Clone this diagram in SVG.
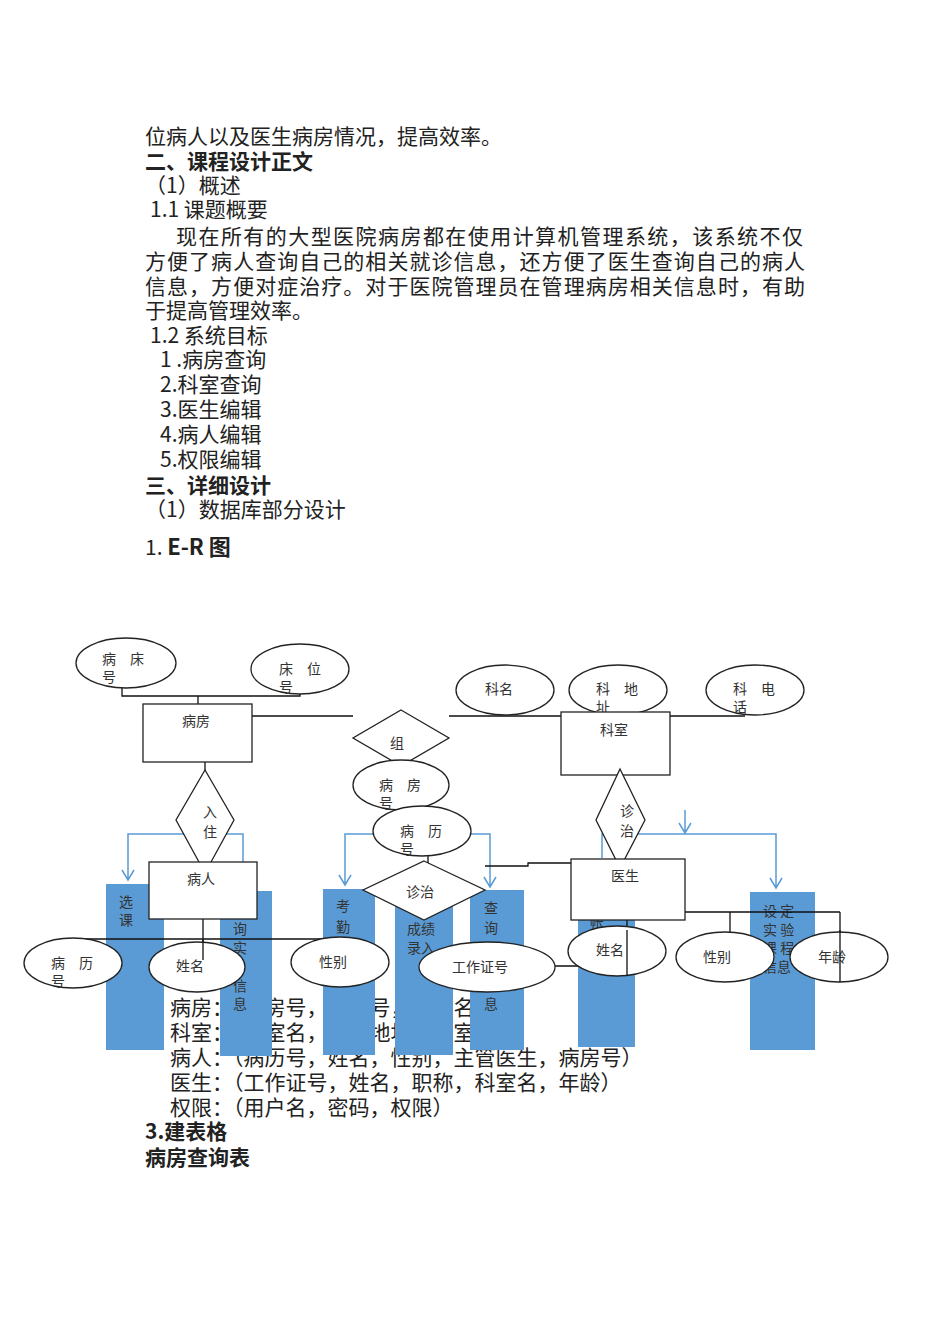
<svg xmlns="http://www.w3.org/2000/svg" width="950" height="1344" viewBox="0 0 950 1344">
<style>
text{font-family:"Noto Sans CJK SC","Noto Sans",sans-serif;fill:#222}
.t{font-size:21px}
.b{font-weight:bold}
.s{font-size:14px;fill:#333}
.bar{fill:#5b9bd5}
.k{fill:#fff;stroke:#222;stroke-width:1.3}
.l{fill:none;stroke:#111;stroke-width:1.3}
.bl{fill:none;stroke:#5b9bd5;stroke-width:1.5}
</style>
<rect width="950" height="1344" fill="#fff"/>
<g id="text">
<text class="t" x="145" y="144">位病人以及医生病房情况，提高效率。</text>
<text class="t b" x="145" y="169">二、课程设计正文</text>
<text class="t" x="145" y="193">（1）概述</text>
<text class="t" x="150" y="217">1.1 课题概要</text>
<text class="t" x="176" y="244" textLength="627">现在所有的大型医院病房都在使用计算机管理系统，该系统不仅</text>
<text class="t" x="145" y="269" textLength="660">方便了病人查询自己的相关就诊信息，还方便了医生查询自己的病人</text>
<text class="t" x="145" y="294" textLength="660">信息，方便对症治疗。对于医院管理员在管理病房相关信息时，有助</text>
<text class="t" x="145" y="318">于提高管理效率。</text>
<text class="t" x="150" y="343">1.2 系统目标</text>
<text class="t" x="160" y="367">1 .病房查询</text>
<text class="t" x="160" y="392">2.科室查询</text>
<text class="t" x="160" y="417">3.医生编辑</text>
<text class="t" x="160" y="442">4.病人编辑</text>
<text class="t" x="160" y="467">5.权限编辑</text>
<text class="t b" x="145" y="493">三、详细设计</text>
<text class="t" x="145" y="517">（1）数据库部分设计</text>
<text class="t" x="145" y="555">1. <tspan class="b" font-size="22">E-R 图</tspan></text>
<text class="t" x="170" y="1015">病房：（病房号，床位号，科室名）</text>
<text class="t" x="170" y="1040">科室：（科室名，科室地址，科室电话）</text>
<text class="t" x="170" y="1065">病人：（病历号，姓名，性别，主管医生，病房号）</text>
<text class="t" x="170" y="1090">医生：（工作证号，姓名，职称，科室名，年龄）</text>
<text class="t" x="170" y="1115">权限：（用户名，密码，权限）</text>
<text class="t b" x="145" y="1139">3.建表格</text>
<text class="t b" x="145" y="1165">病房查询表</text>
</g>
<g id="bars">
<rect class="bar" x="106" y="884" width="58" height="166"/>
<text class="s" x="119" y="907" fill="#333">选</text><text class="s" x="119" y="925">课</text>
<rect class="bar" x="220" y="891" width="52" height="165"/>
<text class="s" x="233" y="934">询</text><text class="s" x="233" y="953">实</text><text class="s" x="233" y="991">信</text><text class="s" x="233" y="1009">息</text>
<rect class="bar" x="323" y="889" width="52" height="166"/>
<text class="s" x="336" y="911">考</text><text class="s" x="336" y="932">勤</text>
<rect class="bar" x="395" y="889" width="58" height="166"/>
<text class="s" x="407" y="934">成绩</text><text class="s" x="407" y="953">录入</text>
<rect class="bar" x="470" y="890" width="54" height="160"/>
<text class="s" x="484" y="913">查</text><text class="s" x="484" y="933">询</text><text class="s" x="484" y="1009">息</text>
<rect class="bar" x="578" y="910" width="57" height="137"/>
<text class="s" x="590" y="927">帐</text>
<rect class="bar" x="750" y="892" width="65" height="158"/>
<text class="s" x="763" y="916">设 定</text><text class="s" x="763" y="935">实 验</text><text class="s" x="763" y="953">课 程</text><text class="s" x="763" y="972">信息</text>
</g>
<g id="connectors">
<path class="bl" d="M128,880V834H243V862M122,870l6,10l6,-10"/>
<path class="bl" d="M345,885V834H490V887M339,875l6,10l6,-10M484,877l6,10l6,-10"/>
<path class="bl" d="M602,858V834H776V888M770,878l6,10l6,-10M685,810V833M679,823l6,10l6,-10"/>
<path class="l" d="M122,688V696H300V694M198,696V762M252,716H353M449,716H745M205,738V870M203,895V975M60,939H330M627,905V976M627,912H840M730,912V932M840,912V982M620,716V897M555,966H578M485,866H528V863H571M401,723V758M428,832V880"/>
</g>
<g id="n_bingchuang"><ellipse class="k" cx="126" cy="663" rx="50" ry="25"/><text class="s" x="102" y="664">病　床</text><text class="s" x="102" y="682">号</text></g>
<g id="n_chuangwei"><ellipse class="k" cx="300" cy="669" rx="49" ry="25"/><text class="s" x="279" y="674">床　位</text><text class="s" x="279" y="692">号</text></g>
<g id="n_bingfang"><rect class="k" x="143" y="704" width="109" height="58"/><text class="s" x="182" y="726">病房</text></g>
<g id="n_ruzhu"><polygon class="k" points="205,770 234,820 205,873 176,820"/><text class="s" x="203" y="817">入</text><text class="s" x="203" y="837">住</text></g>
<g id="n_bingren"><rect class="k" x="149" y="862" width="108" height="57"/><text class="s" x="187" y="884">病人</text></g>
<g id="n_zucheng"><polygon class="k" points="401,710 449,738 401,766 353,738"/><text class="s" x="390" y="748">组</text></g>
<g id="n_bingfanghao"><ellipse class="k" cx="401" cy="785" rx="48" ry="25"/><text class="s" x="379" y="790">病　房</text><text class="s" x="379" y="808">号</text></g>
<g id="n_binglihao2"><ellipse class="k" cx="422" cy="831" rx="49" ry="25"/><text class="s" x="400" y="836">病　历</text><text class="s" x="400" y="854">号</text></g>
<g id="n_zhenzhi1"><polygon class="k" points="424,861 485,890 424,920 363,890"/><text class="s" x="406" y="897">诊治</text></g>
<g id="n_keming"><ellipse class="k" cx="505" cy="690" rx="49" ry="25"/><text class="s" x="485" y="694">科名</text></g>
<g id="n_kedizhi"><ellipse class="k" cx="618" cy="690" rx="49" ry="25"/><text class="s" x="596" y="694">科　地</text><text class="s" x="596" y="712">址</text></g>
<g id="n_kedianhua"><ellipse class="k" cx="755" cy="690" rx="49" ry="25"/><text class="s" x="733" y="694">科　电</text><text class="s" x="733" y="712">话</text></g>
<g id="n_keshi"><rect class="k" x="561" y="712" width="109" height="63"/><text class="s" x="600" y="735">科室</text></g>
<g id="n_zhenzhi2"><polygon class="k" points="620,769 645,820 620,868 596,820"/><text class="s" x="620" y="816">诊</text><text class="s" x="620" y="836">治</text></g>
<g id="n_yisheng"><rect class="k" x="571" y="859" width="114" height="61"/><text class="s" x="611" y="881">医生</text></g>
<g id="n_binglihao"><ellipse class="k" cx="73" cy="963" rx="49" ry="25"/><text class="s" x="51" y="968">病　历</text><text class="s" x="51" y="986">号</text></g>
<g id="n_xingming"><ellipse class="k" cx="197" cy="967" rx="48" ry="25"/><text class="s" x="176" y="971">姓名</text></g>
<g id="n_xingbie"><ellipse class="k" cx="340" cy="962" rx="49" ry="25"/><text class="s" x="319" y="967">性别</text></g>
<g id="n_gongzuo"><ellipse class="k" cx="487" cy="967" rx="68" ry="25"/><text class="s" x="452" y="972">工作证号</text></g>
<g id="n_xingming2"><ellipse class="k" cx="617" cy="951" rx="49" ry="25"/><text class="s" x="596" y="955">姓名</text></g>
<g id="n_xingbie2"><ellipse class="k" cx="725" cy="957" rx="49" ry="25"/><text class="s" x="703" y="962">性别</text></g>
<g id="n_nianling"><ellipse class="k" cx="839" cy="957" rx="49" ry="25"/><text class="s" x="818" y="962">年龄</text></g>
<path class="l" d="M627,930V976M840,930V982M203,940V960"/>
</svg>
